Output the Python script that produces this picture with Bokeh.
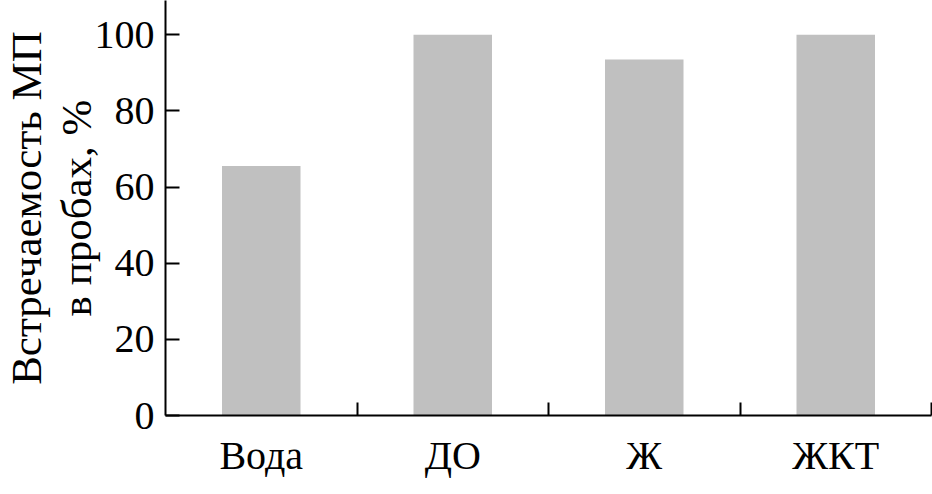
from bokeh.plotting import figure
from bokeh.models import ColumnDataSource, FixedTicker, Range1d
from bokeh.embed import file_html
from bokeh.resources import INLINE

categories = ["Вода", "ДО", "Ж", "ЖКТ"]
values = [65.5, 100, 93.5, 100]
y_ticks = [0, 20, 40, 60, 80, 100]
y_label = "Встречаемость МП\nв пробах, %"

FONT = "Liberation Serif"

centers = [i + 0.5 for i in range(len(categories))]
bounds = [i + 1 for i in range(len(categories))]

src = ColumnDataSource(dict(x=centers, top=values, cat=categories))

p = figure(width=932, height=494, output_backend="svg", toolbar_location=None,
           x_range=Range1d(0, len(categories)), y_range=Range1d(0, 109.0),
           min_border_left=165, min_border_right=1, min_border_top=0, min_border_bottom=79)

p.vbar(x="x", top="top", width=0.41, bottom=0, source=src,
       fill_color="#c0c0c0", line_color=None)

p.outline_line_color = None
p.xgrid.visible = False
p.ygrid.visible = False
p.background_fill_color = "white"
p.border_fill_color = "white"

# x axis
xa = p.xaxis[0]
xa.ticker = FixedTicker(ticks=centers, minor_ticks=bounds)
xa.major_label_overrides = {c: n for c, n in zip(centers, categories)}
xa.major_tick_line_color = None
xa.major_tick_in = 0
xa.major_tick_out = 0
xa.minor_tick_in = 13
xa.minor_tick_out = 0
xa.minor_tick_line_width = 2
xa.minor_tick_line_color = "black"
xa.axis_line_width = 2
xa.axis_line_color = "black"
xa.major_label_text_font = FONT
xa.major_label_text_font_size = "40px"
xa.major_label_text_color = "black"
xa.major_label_standoff = 17

# y axis
ya = p.yaxis[0]
ya.ticker = FixedTicker(ticks=y_ticks)
ya.major_tick_in = 14
ya.major_tick_out = 0
ya.major_tick_line_width = 2
ya.major_tick_line_color = "black"
ya.minor_tick_line_color = None
ya.axis_line_width = 2
ya.axis_line_color = "black"
ya.major_label_text_font = FONT
ya.major_label_text_font_size = "40px"
ya.major_label_text_color = "black"
ya.major_label_standoff = 11
ya.axis_label = y_label
ya.axis_label_text_font = FONT
ya.axis_label_text_font_size = "43px"
ya.axis_label_text_font_style = "normal"
ya.axis_label_text_color = "black"
ya.axis_label_text_line_height = 1.05
ya.axis_label_standoff = -8

open("out.html", "w").write(file_html(p, INLINE))
